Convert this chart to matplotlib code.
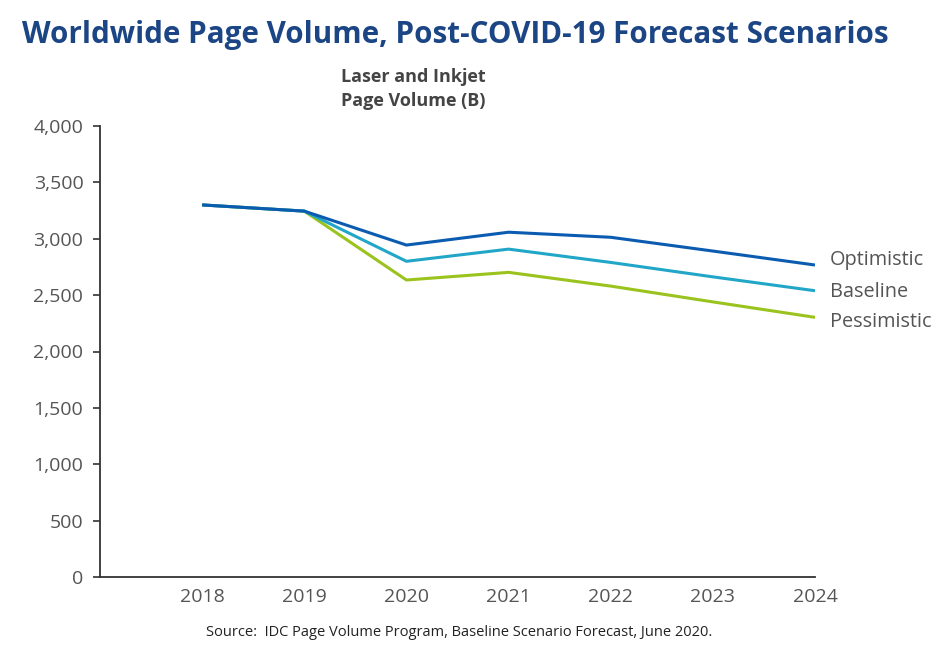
import matplotlib
matplotlib.use("Agg")
import matplotlib.pyplot as plt

years = [2018, 2019, 2020, 2021, 2022, 2023, 2024]
optimistic = [3300, 3245, 2944, 3058, 3013, 2891, 2767]
baseline = [3300, 3245, 2800, 2908, 2790, 2662, 2539]
pessimistic = [3300, 3245, 2634, 2702, 2580, 2440, 2303]
series_names = ["Optimistic", "Baseline", "Pessimistic"]
yticks = [0, 500, 1000, 1500, 2000, 2500, 3000, 3500, 4000]

colors = ["#0b5cb0", "#21a6c8", "#9bc31e"]
label_offsets = [3.5, -1.0, -3.5]
gray = "#555555"

plt.rcParams['font.family'] = ['Open Sans', 'DejaVu Sans']

fig = plt.figure(figsize=(9.5, 6.45), dpi=100)
ax = fig.add_axes([100/950, (645-577)/645, (815-100)/950, (577-126)/645])

for vals, c in zip([pessimistic, baseline, optimistic], colors[::-1]):
    ax.plot(years, vals, color=c, lw=2.2, solid_capstyle='butt')

for name, vals, c, off in zip(series_names, [optimistic, baseline, pessimistic], colors, label_offsets):
    ax.annotate(name, xy=(years[-1], vals[-1]), xytext=(10.5, off), textcoords='offset points',
                va='center', ha='left', fontsize=14.3, color=gray, annotation_clip=False)

ax.set_xlim(2017, 2024)
ax.set_ylim(0, 4000)
ax.set_xticks(years)
ax.set_yticks(yticks)
ax.set_yticklabels([f"{v:,}" for v in yticks])
for s in ['top', 'right']:
    ax.spines[s].set_visible(False)
for s in ['left', 'bottom']:
    ax.spines[s].set_color('#333333')
    ax.spines[s].set_linewidth(1.3)
ax.tick_params(axis='y', length=5, width=1.2, color='#333333', labelsize=14, labelcolor=gray, pad=7)
ax.tick_params(axis='x', length=0, labelsize=14, labelcolor=gray, pad=8)

fig.text(22/950, 1-35/645, "Worldwide Page Volume, Post-COVID-19 Forecast Scenarios",
         fontsize=21.3, fontweight='bold', color='#1b4584', va='center', ha='left')
fig.text(413/950, 1-89/645, "Laser and Inkjet\nPage Volume (B)", fontsize=13,
         fontweight='bold', color='#444444', va='center', ha='center', linespacing=1.5)
fig.text(459/950, 1-632/645, "Source:  IDC Page Volume Program, Baseline Scenario Forecast, June 2020.",
         fontsize=10.5, color='#222222', va='center', ha='center')

fig.savefig("out.png", dpi=100)
